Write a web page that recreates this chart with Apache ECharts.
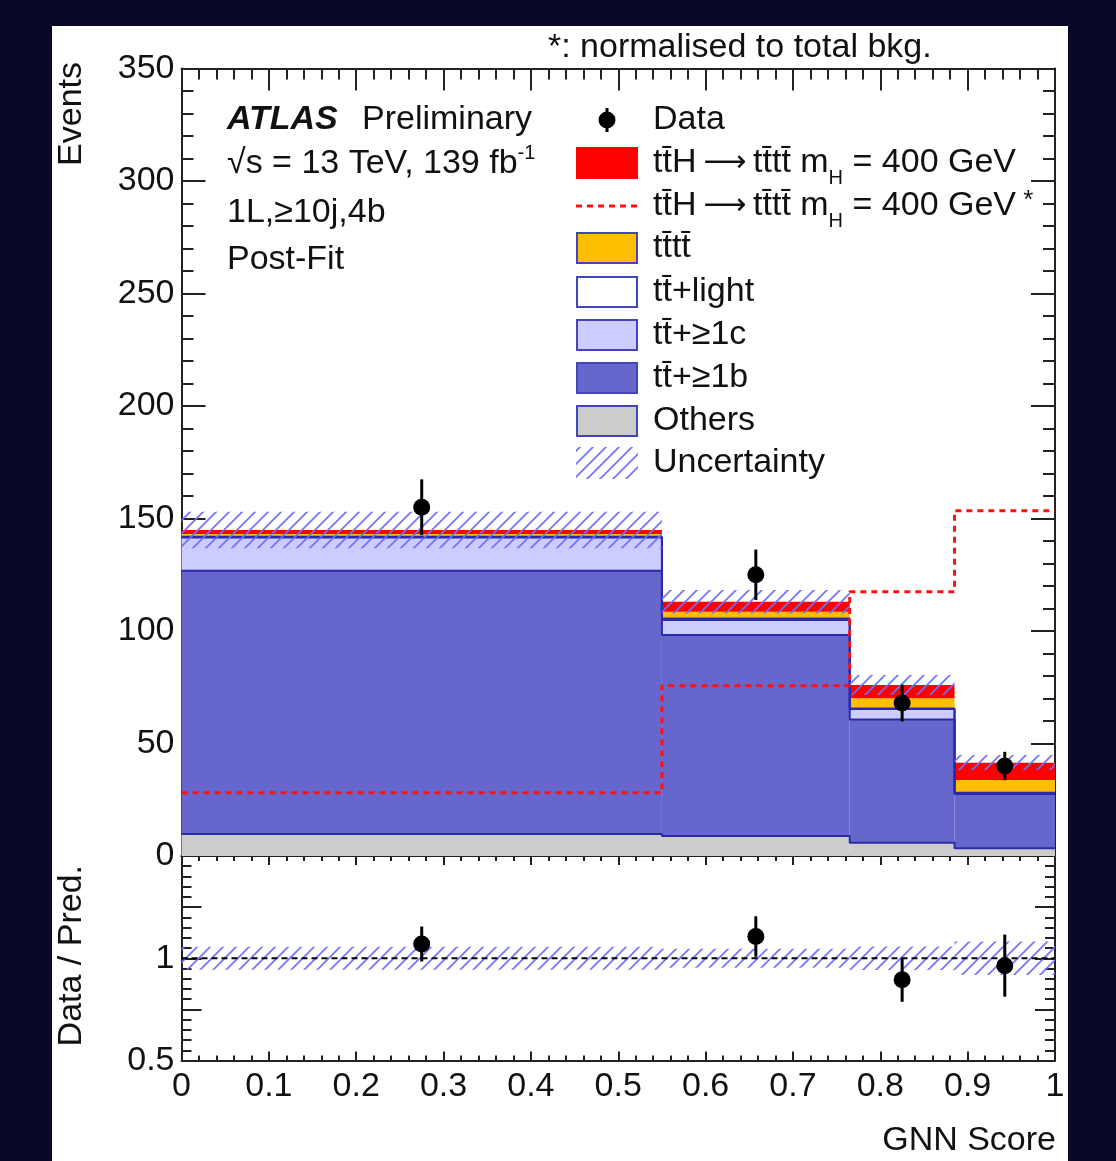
<!DOCTYPE html>
<html><head><meta charset="utf-8">
<script src="https://cdn.jsdelivr.net/npm/echarts@6/dist/echarts.min.js"></script>
<style>
html,body{margin:0;padding:0;background:#080828;}
#panel{position:absolute;left:52px;top:26px;width:1016px;height:1135px;background:#fff;}
#chart{position:absolute;left:0;top:0;width:1116px;height:1161px;}
</style>
</head><body><div id="panel"></div><div id="chart"></div>
<script>
// ---------------- data ----------------
const binEdges = [0, 0.55, 0.765, 0.885, 1];
const others   = [9.8, 8.9, 5.9, 3.4];
const ttb      = [117.0, 89.3, 54.8, 24.2];
const ttc      = [14.8, 6.7, 4.6, 0.3];
const ttlight  = [0.3, 0.7, 0.3, 0.2];
const tttt     = [1.2, 3.0, 4.5, 5.7];
const signal   = [1.8, 4.4, 5.9, 7.7];
const uncertainty = [8.1, 5.2, 4.4, 3.4];
const dataCenters = [0.275, 0.6575, 0.825, 0.9425];
const dataValues  = [155, 125, 68, 40];
const dataErrors  = [12.4, 11.2, 8.2, 6.3];
const signalNorm  = [28.1, 75.7, 117.5, 153.5];
const ratioLabelValues = [0.5, 1];
const xTickLabels = ['0','0.1','0.2','0.3','0.4','0.5','0.6','0.7','0.8','0.9','1'];

// ---------------- styling ----------------
const FONT = '"Liberation Sans", Arial, Helvetica, sans-serif';
const FS = 34;
const TXT = '#111';
const OUTLINE = '#2a2aaa';
const components = [
  {vals: others,  fill: '#cccccc', line: OUTLINE},
  {vals: ttb,     fill: '#6666cc', line: OUTLINE},
  {vals: ttc,     fill: '#ccccff', line: OUTLINE},
  {vals: ttlight, fill: '#ffffff', line: OUTLINE},
  {vals: tttt,    fill: '#ffbf00', line: null},
  {vals: signal,  fill: '#ff0000', line: null}
];

// hatch pattern
const tile = document.createElement('canvas');
const T = 13; tile.width = T; tile.height = T;
(function(){
  const c = tile.getContext('2d');
  c.strokeStyle = 'rgba(110,110,255,0.95)'; c.lineWidth = 1.8;
  c.beginPath();
  c.moveTo(0, T); c.lineTo(T, 0);
  c.moveTo(-3, 3); c.lineTo(3, -3);
  c.moveTo(T-3, T+3); c.lineTo(T+3, T-3);
  c.stroke();
})();
const hatch = {image: tile, repeat: 'repeat'};

// cumulative stack
const nb = binEdges.length - 1;
const cum = [];
let base = new Array(nb).fill(0);
components.forEach(comp => {
  const lo = base.slice();
  const hi = lo.map((v, i) => v + comp.vals[i]);
  cum.push({lo, hi});
  base = hi;
});
const total = base;

function rectRender(fill) {
  return function(params, api) {
    const p0 = api.coord([api.value(0), api.value(3)]);
    const p1 = api.coord([api.value(1), api.value(2)]);
    return {type: 'rect', shape: {x: p0[0], y: p0[1], width: p1[0]-p0[0], height: p1[1]-p0[1]},
            style: {fill: fill}};
  };
}
function stepData(tops) {
  const d = [];
  for (let i = 0; i < nb; i++) d.push([binEdges[i], tops[i]]);
  d.push([binEdges[nb], tops[nb-1]]);
  return d;
}
function pointRender(r) {
  return function(params, api) {
    const x = api.value(0), y = api.value(1), e = api.value(2);
    const c = api.coord([x, y]);
    const t = api.coord([x, y + e]);
    const b = api.coord([x, y - e]);
    return {type: 'group', children: [
      {type: 'line', shape: {x1: c[0], y1: t[1], x2: c[0], y2: b[1]}, style: {stroke: '#000', lineWidth: 3}},
      {type: 'circle', shape: {cx: c[0], cy: c[1], r: r}, style: {fill: '#000'}}
    ]};
  };
}

const series = [];
components.forEach((comp, k) => {
  series.push({
    type: 'custom', xAxisIndex: 0, yAxisIndex: 0, z: 2 + k*0.01, silent: true,
    renderItem: rectRender(comp.fill),
    data: binEdges.slice(0, nb).map((e, i) => [e, binEdges[i+1], cum[k].lo[i], cum[k].hi[i]])
  });
});
components.forEach((comp, k) => {
  if (!comp.line) return;
  series.push({
    type: 'line', xAxisIndex: 0, yAxisIndex: 0, z: 3, step: 'end', symbol: 'none', silent: true,
    lineStyle: {color: comp.line, width: 2}, data: stepData(cum[k].hi)
  });
});
// uncertainty hatch
series.push({
  type: 'custom', xAxisIndex: 0, yAxisIndex: 0, z: 4, silent: true,
  renderItem: rectRender(hatch),
  data: binEdges.slice(0, nb).map((e, i) => [e, binEdges[i+1], total[i]-uncertainty[i], total[i]+uncertainty[i]])
});
// normalised signal
series.push({
  type: 'line', xAxisIndex: 0, yAxisIndex: 0, z: 5, step: 'end', symbol: 'none', silent: true,
  lineStyle: {color: '#ff1010', width: 3, type: [6, 5]}, data: stepData(signalNorm)
});
// data
series.push({
  type: 'custom', xAxisIndex: 0, yAxisIndex: 0, z: 6, silent: true,
  renderItem: pointRender(8.5),
  data: dataCenters.map((x, i) => [x, dataValues[i], dataErrors[i]])
});
// ratio band
series.push({
  type: 'custom', xAxisIndex: 2, yAxisIndex: 2, z: 4, silent: true,
  renderItem: rectRender(hatch),
  data: binEdges.slice(0, nb).map((e, i) => [e, binEdges[i+1], 1-uncertainty[i]/total[i], 1+uncertainty[i]/total[i]])
});
series.push({
  type: 'line', xAxisIndex: 2, yAxisIndex: 2, z: 5, symbol: 'none', silent: true,
  lineStyle: {color: '#000', width: 2, type: [6, 4]}, data: [[0, 1], [1, 1]]
});
series.push({
  type: 'custom', xAxisIndex: 2, yAxisIndex: 2, z: 6, silent: true,
  renderItem: pointRender(8.5),
  data: dataCenters.map((x, i) => [x, dataValues[i]/total[i], dataErrors[i]/total[i]])
});

const axisLine = {show: true, onZero: false, lineStyle: {color: '#222', width: 2}};
function xAx(grid, pos, showLabel, tl, ml) {
  return {
    type: 'value', gridIndex: grid, position: pos, min: 0, max: 1, interval: 0.1,
    axisLine: axisLine, splitLine: {show: false},
    axisTick: {show: true, inside: true, length: tl, lineStyle: {color: '#222', width: 2}},
    minorTick: {show: true, splitNumber: 5, length: ml, lineStyle: {color: '#222', width: 2}},
    axisLabel: {show: showLabel, fontFamily: FONT, fontSize: FS, color: TXT, margin: 9,
      formatter: v => xTickLabels[Math.round(v*10)]}
  };
}
function yAx(grid, pos, showLabel, mn, mx, iv, tl, ml, fmt) {
  return {
    type: 'value', gridIndex: grid, position: pos, min: mn, max: mx, interval: iv,
    axisLine: axisLine, splitLine: {show: false},
    axisTick: {show: true, inside: true, length: tl, lineStyle: {color: '#222', width: 2}},
    minorTick: {show: true, splitNumber: 5, length: ml, lineStyle: {color: '#222', width: 2}},
    axisLabel: {show: showLabel, fontFamily: FONT, fontSize: FS, color: TXT, margin: 7, formatter: fmt}
  };
}
const ratioFmt = v => {
  for (const r of ratioLabelValues) if (Math.abs(v - r) < 1e-6) return String(r);
  return '';
};

const rich = {
  a: {fontFamily: FONT, fontSize: FS, color: TXT},
  r: {fontFamily: '"DejaVu Sans", ' + FONT, fontSize: 30, color: TXT},
  b: {fontFamily: FONT, fontSize: FS, color: TXT, fontWeight: 'bold', fontStyle: 'italic'},
  s: {fontFamily: FONT, fontSize: 20, color: TXT, padding: [30, 0, 0, 0]},
  u: {fontFamily: FONT, fontSize: 20, color: TXT, padding: [0, 0, 22, 0]},
  k: {fontFamily: FONT, fontSize: 26, color: TXT, padding: [0, 0, 10, 0]}
};
function txt(x, y, text, extra) {
  return Object.assign({type: 'text', x: x, y: y, silent: true, z: 100,
    style: {text: text, font: FS + 'px ' + FONT, fill: TXT, textAlign: 'left', textVerticalAlign: 'middle', rich: rich}}, extra || {});
}
const TB = 't\u0074\u0304';
const sigText = '{a|' + TB + 'H\u2009}{r|\u27F6}{a|\u2009' + TB + TB + ' m}{s|H}{a| = 400 GeV}';
const LX = 653, BX = 576, BW = 62, BH = 30;
const rows = [120, 163, 206, 248, 292, 335, 378, 421, 463];
const graphic = [];
graphic.push(txt(548, 48, '*: normalised to total bkg.'));
graphic.push(txt(227, 120, '{b|ATLAS}'));
graphic.push(txt(362, 120, 'Preliminary'));
graphic.push(txt(227, 164, '{a|\u221As = 13 TeV, 139 fb}{u|-1}'));
graphic.push(txt(227, 213, '1L,\u226510j,4b'));
graphic.push(txt(227, 260, 'Post-Fit'));
// legend
graphic.push({type: 'line', z: 100, shape: {x1: 607, y1: rows[0]-12, x2: 607, y2: rows[0]+12}, style: {stroke: '#000', lineWidth: 3}});
graphic.push({type: 'circle', z: 100, shape: {cx: 607, cy: rows[0], r: 8.5}, style: {fill: '#000'}});
graphic.push(txt(LX, rows[0], 'Data'));
graphic.push({type: 'rect', z: 100, shape: {x: BX, y: rows[1]-16, width: BW, height: 32}, style: {fill: '#ff0000'}});
graphic.push(txt(LX, rows[1], sigText));
graphic.push({type: 'line', z: 100, shape: {x1: BX, y1: rows[2], x2: BX+BW, y2: rows[2]}, style: {stroke: '#ff1010', lineWidth: 3, lineDash: [6, 5]}});
graphic.push(txt(LX, rows[2], sigText + '{k| *}'));
const boxRows = [
  [rows[3], '#ffbf00', TB + TB],
  [rows[4], '#ffffff', TB + '+light'],
  [rows[5], '#ccccff', TB + '+\u22651c'],
  [rows[6], '#6666cc', TB + '+\u22651b'],
  [rows[7], '#cccccc', 'Others']
];
boxRows.forEach(r => {
  graphic.push({type: 'rect', z: 100, shape: {x: BX+1, y: r[0]-BH/2, width: BW-2, height: BH},
    style: {fill: r[1], stroke: '#4444bb', lineWidth: 2}});
  graphic.push(txt(LX, r[0], r[2]));
});
graphic.push({type: 'rect', z: 100, shape: {x: BX, y: rows[8]-16, width: BW, height: 32}, style: {fill: hatch}});
graphic.push(txt(LX, rows[8], 'Uncertainty'));
// axis titles
graphic.push(txt(72, 62, 'Events', {rotation: Math.PI/2, style: {text: 'Events', font: FS + 'px ' + FONT, fill: TXT, textAlign: 'right', textVerticalAlign: 'middle'}}));
graphic.push(txt(72, 865, 'Data / Pred.', {rotation: Math.PI/2, style: {text: 'Data / Pred.', font: FS + 'px ' + FONT, fill: TXT, textAlign: 'right', textVerticalAlign: 'middle'}}));
graphic.push(txt(1056, 1141, 'GNN Score', {style: {text: 'GNN Score', font: FS + 'px ' + FONT, fill: TXT, textAlign: 'right', textVerticalAlign: 'middle'}}));

const chart = echarts.init(document.getElementById('chart'), null, {renderer: 'canvas'});
chart.setOption({
  animation: false,
  backgroundColor: 'transparent',
  grid: [
    {left: 181.5, top: 68.5, width: 873.5, height: 787.5, containLabel: false},
    {left: 181.5, top: 856, width: 873.5, height: 204.5, containLabel: false}
  ],
  xAxis: [
    xAx(0, 'bottom', false, 22, 11),
    xAx(0, 'top', false, 22, 11),
    xAx(1, 'bottom', true, 9, 5),
    xAx(1, 'top', false, 9, 5)
  ],
  yAxis: [
    yAx(0, 'left', true, 0, 350, 50, 24, 12),
    yAx(0, 'right', false, 0, 350, 50, 24, 12),
    yAx(1, 'left', true, 0.5, 1.5, 0.25, 20, 10, ratioFmt),
    yAx(1, 'right', false, 0.5, 1.5, 0.25, 20, 10, ratioFmt)
  ],
  series: series,
  graphic: graphic
});
</script>
</body></html>
